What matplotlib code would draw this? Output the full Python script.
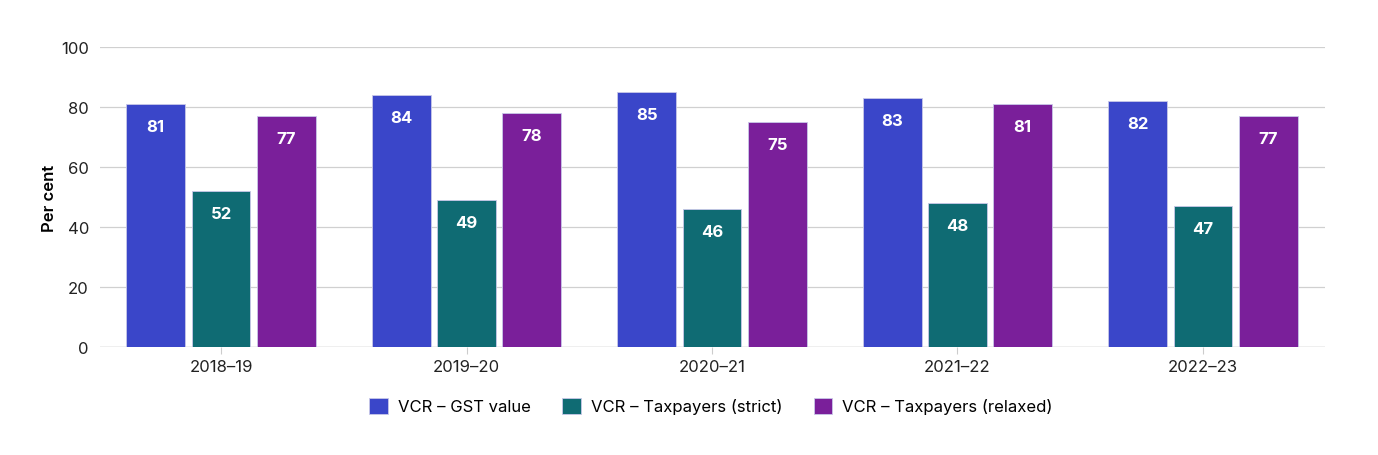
import matplotlib
matplotlib.use("Agg")
import matplotlib.pyplot as plt
import numpy as np
from matplotlib.patches import Patch

plt.rcParams['font.family'] = ['Inter', 'DejaVu Sans']

years = ["2018–19", "2019–20", "2020–21", "2021–22", "2022–23"]
series_names = ["VCR – GST value", "VCR – Taxpayers (strict)", "VCR – Taxpayers (relaxed)"]
gst_value = [81, 84, 85, 83, 82]
tp_strict = [52, 49, 46, 48, 47]
tp_relaxed = [77, 78, 75, 81, 77]
colors = ["#3A46C9", "#0F6B73", "#7A1F9A"]

fig = plt.figure(figsize=(13.78, 4.56), dpi=100)
ax = fig.add_axes([100/1378, 1-348/456, 1225/1378, 300/456])

x = np.arange(len(years))
w = 0.24
step = 0.266
for i, (vals, c) in enumerate(zip([gst_value, tp_strict, tp_relaxed], colors)):
    pos = x + (i - 1) * step
    bars = ax.bar(pos, vals, width=w, color=c, edgecolor="#c8c8e8", linewidth=0.6, zorder=3)
    for b, v in zip(bars, vals):
        ax.annotate(str(v), (b.get_x() + b.get_width()/2, v), xytext=(0, -16),
                    textcoords="offset points", ha="center", va="center",
                    color="white", fontsize=12, fontweight="bold", zorder=4)

ax.set_xlim(-0.493, 4.497)
ax.set_ylim(0, 100)
ax.set_yticks([0, 20, 40, 60, 80, 100])
ax.set_xticks(x)
ax.set_xticklabels(years)
ax.yaxis.grid(True, color="#d0d0d0", linewidth=0.9, zorder=0)
ax.set_axisbelow(True)
for s in ax.spines.values():
    s.set_visible(False)
ax.axhline(0, color="#c8c8c8", linewidth=1.0, zorder=2)
ax.tick_params(axis="y", length=0, labelsize=12, pad=8, colors="#222222")
ax.tick_params(axis="x", length=5, color="#cccccc", labelsize=12, pad=4, labelcolor="#222222")
ax.set_ylabel("Per cent", fontsize=12, fontweight="semibold", labelpad=3)

handles = [Patch(facecolor=c, edgecolor="#c8c8e8", linewidth=0.6) for c in colors]
fig.legend(handles, series_names, loc="center", bbox_to_anchor=(711/1378, 1-407/456),
           ncol=3, frameon=False, fontsize=12, handlelength=1.1, handleheight=1.1,
           columnspacing=1.9, handletextpad=0.6)

fig.savefig("out.png", dpi=100)
